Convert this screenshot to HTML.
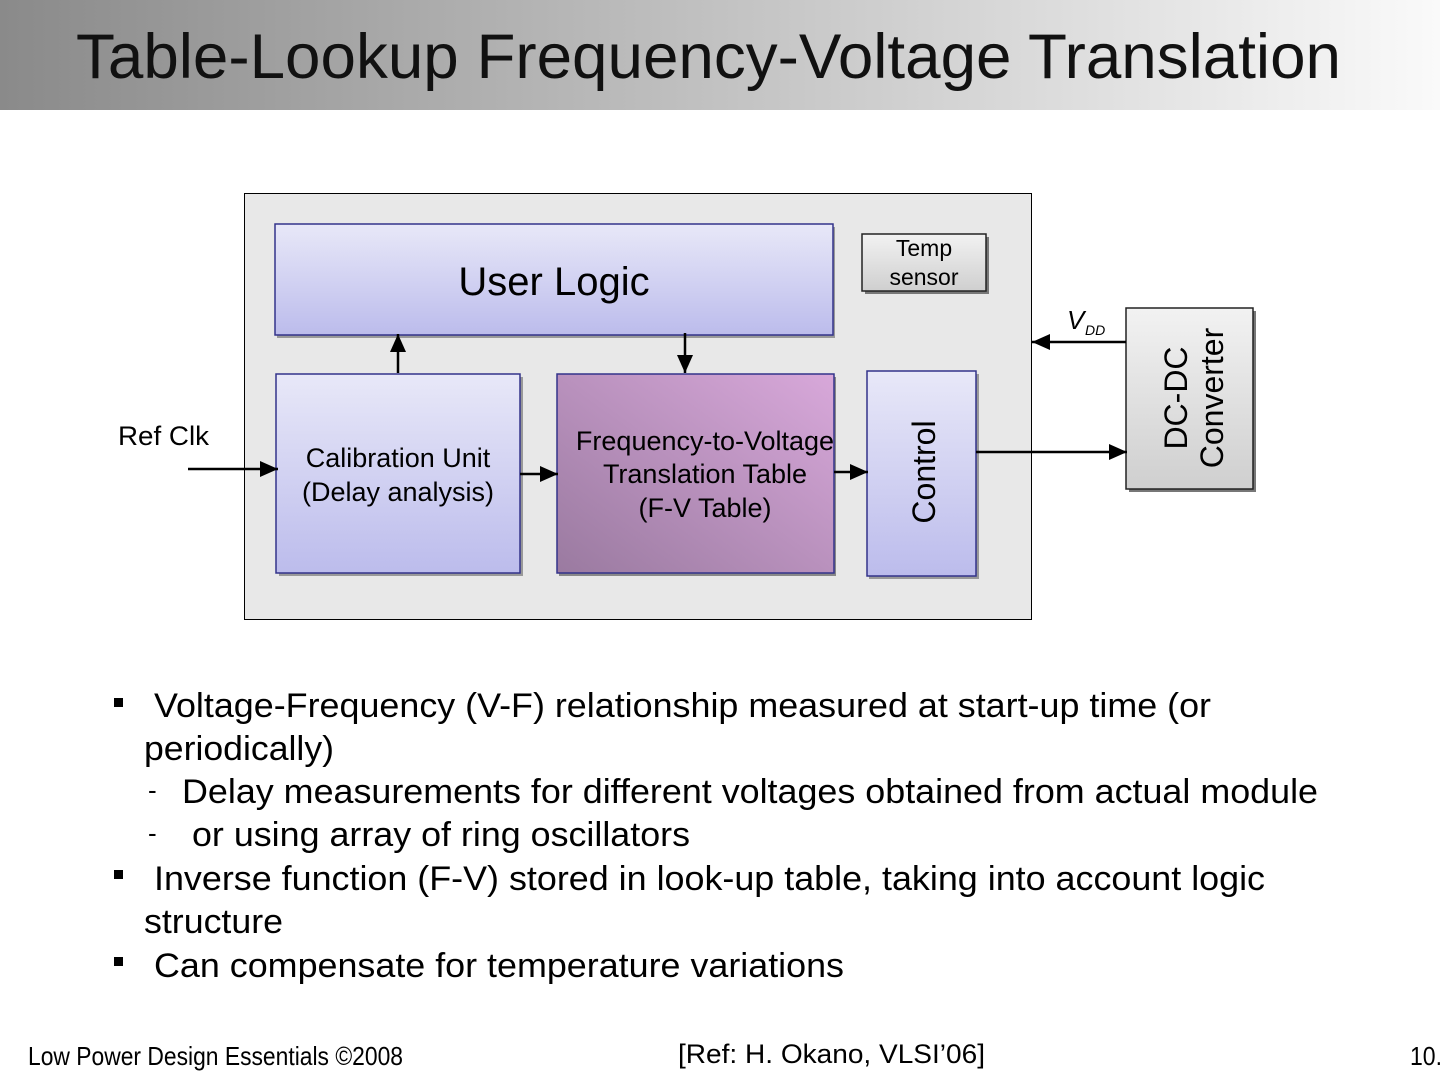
<!DOCTYPE html>
<html><head><meta charset="utf-8"><style>
body{margin:0;width:1440px;height:1080px;overflow:hidden;background:#fff;font-family:"Liberation Sans",sans-serif}
</style></head><body>
<svg width="1440" height="1080" viewBox="0 0 1440 1080" xmlns="http://www.w3.org/2000/svg" font-family="Liberation Sans, sans-serif">
<defs>
<linearGradient id="hd" x1="0" x2="1" y1="0" y2="0"><stop offset="0" stop-color="#8a8a8a"/><stop offset="1" stop-color="#fafafa"/></linearGradient>
<linearGradient id="bl" x1="0" x2="0" y1="0" y2="1"><stop offset="0" stop-color="#e8e8f8"/><stop offset="1" stop-color="#bcbcec"/></linearGradient>
<linearGradient id="pu" x1="0" y1="1" x2="1" y2="0"><stop offset="0" stop-color="#9a7aa0"/><stop offset="1" stop-color="#d8a8da"/></linearGradient>
<linearGradient id="gr" x1="0" x2="0" y1="0" y2="1"><stop offset="0" stop-color="#f2f2f2"/><stop offset="1" stop-color="#cfcfcf"/></linearGradient>
<marker id="ah" markerWidth="20" markerHeight="20" refX="18" refY="8" orient="auto" markerUnits="userSpaceOnUse" viewBox="0 0 20 16"><path d="M0,0L18,8L0,16z" fill="#000"/></marker>
</defs>
<rect x="0" y="0" width="1440" height="110" fill="url(#hd)"/>
<text x="76" y="78" font-size="63" fill="#111" textLength="1265" lengthAdjust="spacingAndGlyphs">Table-Lookup Frequency-Voltage Translation</text>

<rect x="244.5" y="193.5" width="787" height="426" fill="#e8e8e8" stroke="#000" stroke-width="1"/>
<rect x="277" y="227" width="558" height="111" fill="#999"/>
<rect x="275" y="224" width="558" height="111" fill="url(#bl)" stroke="#33338a" stroke-width="1.5"/>
<text x="554" y="295" font-size="40" text-anchor="middle">User Logic</text>
<rect x="865" y="237" width="124" height="57" fill="#777"/>
<rect x="862" y="234" width="124" height="57" fill="url(#gr)" stroke="#222" stroke-width="1.5"/>
<text x="924" y="256" font-size="23" text-anchor="middle">Temp</text>
<text x="924" y="285" font-size="23" text-anchor="middle">sensor</text>
<rect x="279" y="377" width="244" height="199" fill="#999"/>
<rect x="276" y="374" width="244" height="199" fill="url(#bl)" stroke="#33338a" stroke-width="1.5"/>
<text x="398" y="467" font-size="27" text-anchor="middle">Calibration Unit</text>
<text x="398" y="501" font-size="27" text-anchor="middle">(Delay analysis)</text>
<rect x="559" y="377" width="277" height="199" fill="#888"/>
<rect x="557" y="374" width="277" height="199" fill="url(#pu)" stroke="#33338a" stroke-width="1.5"/>
<text x="705" y="450" font-size="27" text-anchor="middle">Frequency-to-Voltage</text>
<text x="705" y="483" font-size="27" text-anchor="middle">Translation Table</text>
<text x="705" y="517" font-size="27" text-anchor="middle">(F-V Table)</text>
<rect x="869" y="374" width="110" height="205" fill="#999"/>
<rect x="867" y="371" width="109" height="205" fill="url(#bl)" stroke="#33338a" stroke-width="1.5"/>
<text transform="translate(935,472) rotate(-90)" font-size="32" text-anchor="middle">Control</text>
<rect x="1129" y="311" width="127" height="181" fill="#777"/>
<rect x="1126" y="308" width="127" height="181" fill="url(#gr)" stroke="#222" stroke-width="1.5"/>
<text transform="translate(1187,398) rotate(-90)" font-size="32" text-anchor="middle">DC-DC</text>
<text transform="translate(1223,398) rotate(-90)" font-size="32" text-anchor="middle">Converter</text>

<g stroke="#000" stroke-width="2.5" fill="none">
<line x1="398" y1="373" x2="398" y2="334" marker-end="url(#ah)"/>
<line x1="685" y1="333" x2="685" y2="373" marker-end="url(#ah)"/>
<line x1="188" y1="469" x2="278" y2="469" marker-end="url(#ah)"/>
<line x1="520" y1="474" x2="558" y2="474" marker-end="url(#ah)"/>
<line x1="834" y1="472" x2="868" y2="472" marker-end="url(#ah)"/>
<line x1="976" y1="452" x2="1127" y2="452" marker-end="url(#ah)"/>
<line x1="1126" y1="342" x2="1032" y2="342" marker-end="url(#ah)"/>
</g>
<text x="118" y="445" font-size="27" textLength="91" lengthAdjust="spacingAndGlyphs">Ref Clk</text>
<text x="1067" y="329" font-size="26" font-style="italic">V</text>
<text x="1085" y="335" font-size="14" font-style="italic">DD</text>

<g font-size="34" fill="#000">
<rect x="114" y="698" width="9" height="9"/>
<text x="154" y="717" textLength="1057" lengthAdjust="spacingAndGlyphs">Voltage-Frequency (V-F) relationship measured at start-up time (or</text>
<text x="144" y="760" textLength="190" lengthAdjust="spacingAndGlyphs">periodically)</text>
<text x="148" y="799" font-size="26">-</text>
<text x="182" y="803" textLength="1136" lengthAdjust="spacingAndGlyphs">Delay measurements for different voltages obtained from actual module</text>
<text x="148" y="842" font-size="26">-</text>
<text x="192" y="846" textLength="498" lengthAdjust="spacingAndGlyphs">or using array of ring oscillators</text>
<rect x="114" y="870" width="9" height="9"/>
<text x="154" y="890" textLength="1111" lengthAdjust="spacingAndGlyphs">Inverse function (F-V) stored in look-up table, taking into account logic</text>
<text x="144" y="933" textLength="139" lengthAdjust="spacingAndGlyphs">structure</text>
<rect x="114" y="957" width="9" height="9"/>
<text x="154" y="977" textLength="690" lengthAdjust="spacingAndGlyphs">Can compensate for temperature variations</text>
</g>
<text x="28" y="1065" font-size="26" textLength="375" lengthAdjust="spacingAndGlyphs">Low Power Design Essentials ©2008</text>
<text x="678" y="1063" font-size="27" textLength="307" lengthAdjust="spacingAndGlyphs">[Ref: H. Okano, VLSI’06]</text>
<text x="1410" y="1065" font-size="26" textLength="32" lengthAdjust="spacingAndGlyphs">10.</text>
</svg>
</body></html>
